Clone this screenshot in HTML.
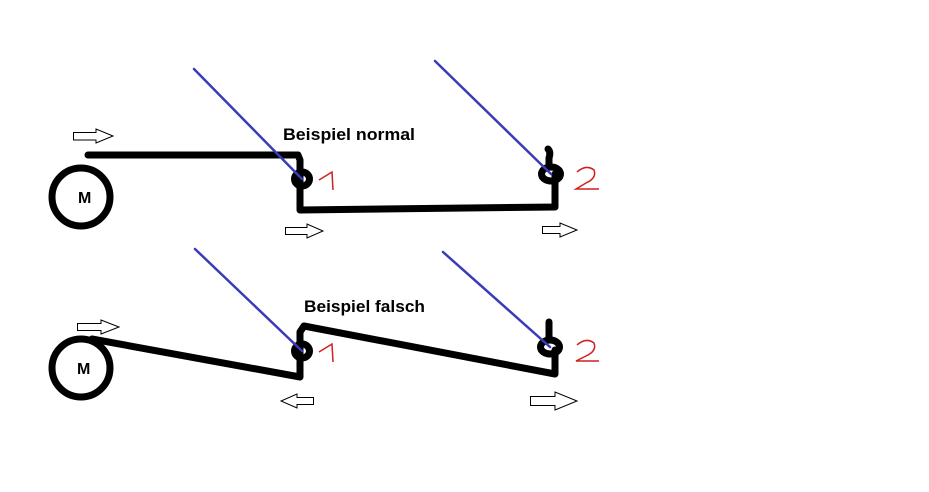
<!DOCTYPE html>
<html><head><meta charset="utf-8"><style>html,body{margin:0;padding:0;background:#fff}svg{display:block}</style></head>
<body>
<svg width="929" height="492" viewBox="0 0 929 492" xmlns="http://www.w3.org/2000/svg">
<rect width="929" height="492" fill="#fff"/>
<g fill="none" stroke="#000" stroke-width="7" stroke-linejoin="round" stroke-linecap="round">
  <circle cx="81" cy="197" r="29"/>
  <polyline points="88,155 298,155 300,160 300,210 555,207 555,174"/>
  <ellipse cx="302" cy="179" rx="7.5" ry="7"/>
  <ellipse cx="551" cy="174" rx="9.5" ry="7"/>
  <path d="M548,149 Q551,152 549,158 L549,166"/>
  <circle cx="81" cy="368" r="29"/>
  <polyline points="92,339 300,377 300,332 304,326 555,374 555,350"/>
  <ellipse cx="302" cy="351" rx="7.5" ry="7"/>
  <ellipse cx="550" cy="347" rx="9.5" ry="7"/>
  <path d="M549,322 L549,339"/>
</g>
<g stroke="#3b3bb8" stroke-width="2.5" stroke-linecap="round">
  <line x1="194" y1="69" x2="302" y2="179"/>
  <line x1="435" y1="61" x2="551" y2="174"/>
  <line x1="195" y1="249" x2="302" y2="351"/>
  <line x1="443" y1="252" x2="550" y2="347"/>
</g>
<g fill="#fff" stroke="#000" stroke-width="1">
  <path d="M73.5,132.5 H96 V129 L113,136 L96,143 V140 H73.5 Z"/>
  <path d="M285.5,227.5 H307 V224 L323,231 L307,238 V234.5 H285.5 Z"/>
  <path d="M542.5,226.5 H560 V223 L577,230 L560,237 V233.5 H542.5 Z"/>
  <path d="M77.5,323.5 H101 V320 L119,327 L101,334 V330.5 H77.5 Z"/>
  <path d="M313.5,397.5 H297 V394 L281,401 L297,408 V404.5 H313.5 Z"/>
  <path d="M530.5,396.5 H555 V392 L577,401 L555,410 V405.5 H530.5 Z"/>
</g>
<g fill="none" stroke="#d02020" stroke-width="1.5">
  <path d="M319,180 L332,172 L333,190"/>
  <path d="M319,352 L332,344 L333,362"/>
  <path d="M577,172 Q586,164 594,170 Q597,178 586,183 L576,189 L599,189"/>
  <path d="M577,345 Q586,337 594,343 Q597,351 586,356 L576,361 L599,361"/>
</g>
<g font-family="Liberation Sans, sans-serif" font-weight="bold" fill="#000">
  <text x="283" y="140" font-size="17" textLength="132" lengthAdjust="spacingAndGlyphs">Beispiel normal</text>
  <text x="304" y="312" font-size="17" textLength="121" lengthAdjust="spacingAndGlyphs">Beispiel falsch</text>
  <text x="78" y="203" font-size="16">M</text>
  <text x="77" y="374" font-size="16">M</text>
</g>
</svg>
</body></html>
